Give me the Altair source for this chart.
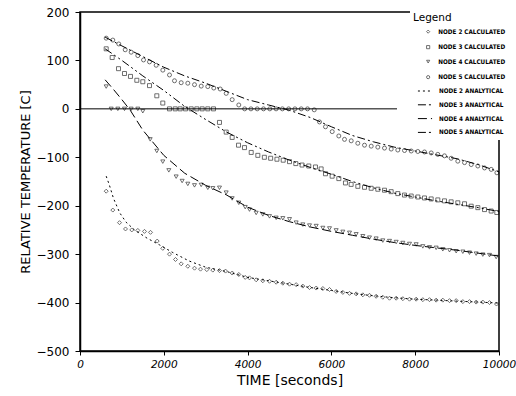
import altair as alt
import pandas as pd

# ---------------- data ----------------
calc_labels = ["NODE 2 CALCULATED", "NODE 3 CALCULATED", "NODE 4 CALCULATED", "NODE 5 CALCULATED"]
ana_labels = ["NODE 2 ANALYTICAL", "NODE 3 ANALYTICAL", "NODE 4 ANALYTICAL", "NODE 5 ANALYTICAL"]

# Node 5 (circles, top curve)
n5_t = [625, 783, 926, 1079, 1221, 1380, 1516, 1659, 1818, 1977, 2136, 2255, 2415, 2573, 2733, 2893,
        3050, 3193, 3346, 3489, 3632, 3790,
        3930, 4080, 4230, 4380, 4530, 4680, 4830, 4980, 5130, 5280, 5430, 5590,
        5716, 5859, 6019, 6177, 6313, 6473, 6630, 6790, 6950, 7108, 7267, 7427, 7585, 7745, 7905,
        8062, 8222, 8382, 8539, 8699, 8858, 9017, 9177, 9337, 9495, 9654, 9814, 9950]
n5_v = [146, 142, 134, 122, 117, 110, 101, 97, 90, 80, 70, 58, 54, 53, 50, 47,
        46, 43, 41, 32, 19, 8,
        0, 0, 0, 0, 0, 0, 0, 0, 0, 0, 0, -2,
        -27, -37, -47, -56, -63, -66, -71, -75, -77, -79, -81, -83, -85, -86, -87,
        -88, -89, -91, -94, -97, -102, -108, -111, -115, -118, -122, -125, -132]

# Node 3 (squares)
n3_t = [625, 768, 919, 1062, 1205, 1356, 1499, 1659, 1833, 1976,
        2136, 2272, 2391, 2518, 2654, 2788, 2916, 3050, 3186,
        3329, 3489, 3632, 3783, 3926, 4086, 4244,
        4400, 4550, 4700, 4850, 5000, 5150, 5300, 5460, 5620, 5755,
        5859, 6018, 6177, 6336, 6471, 6631, 6790, 6949, 7108, 7267,
        7426, 7585, 7744, 7904, 8063, 8222, 8381, 8540, 8699, 8858,
        9017, 9177, 9336, 9495, 9654, 9813, 9948]
n3_v = [124, 106, 83, 73, 67, 59, 56, 48, 27, 12,
        0, 0, 0, 0, 0, 0, 0, 0, 0,
        -28, -48, -59, -75, -80, -90, -96,
        -100, -102, -104, -106, -109, -113, -116, -118, -120, -124,
        -134, -139, -144, -153, -156, -160, -162, -164, -166, -168,
        -171, -175, -178, -180, -182, -184, -186, -188, -190, -192,
        -194, -196, -201, -204, -208, -211, -214]

# Node 4 (down triangles)
n4_t = [625, 745, 903, 1062, 1221, 1380, 1499, 1675, 1833, 1976,
        2120, 2295, 2438, 2573, 2733, 2892, 3050, 3170, 3329, 3489,
        3632, 3790, 3943,
        4045, 4205, 4363, 4523, 4682, 4841, 5000, 5159, 5318, 5477,
        5637, 5796, 5955, 6114, 6273, 6432, 6591, 6750, 6909, 7068,
        7227, 7387, 7546, 7705, 7864, 8023, 8182, 8341, 8500, 8659,
        8819, 8978, 9137, 9296, 9455, 9614, 9773, 9932]
n4_v = [46, 0, 0, 0, 0, 0, -5, -63, -87, -109,
        -127, -140, -149, -155, -158, -157, -163, -164, -163, -173,
        -185, -194, -203,
        -208, -215, -218, -222, -225, -226, -228, -235, -239, -241,
        -242, -246, -247, -251, -254, -256, -259, -263, -266, -268,
        -272, -273, -275, -277, -279, -280, -284, -286, -287, -290,
        -292, -294, -295, -297, -299, -301, -302, -306]

# Node 2 (diamonds, bottom curve)
n2_t = [625, 783, 943, 1086, 1236, 1380, 1539, 1683, 1842, 1976,
        2136, 2279, 2415, 2573, 2733, 2876, 3026, 3170, 3329, 3473,
        3632, 3790, 3943,
        4045, 4205, 4363, 4523, 4682, 4841, 5000, 5159, 5318, 5477,
        5637, 5796, 5955, 6114, 6273, 6432, 6591, 6750, 6909, 7068,
        7227, 7387, 7546, 7705, 7864, 8023, 8182, 8341, 8500, 8659,
        8819, 8978, 9137, 9296, 9455, 9614, 9773, 9940]
n2_v = [-170, -209, -235, -248, -250, -251, -253, -255, -273, -288,
        -300, -311, -320, -325, -329, -331, -332, -333, -334, -335,
        -339, -342, -348,
        -349, -353, -355, -356, -358, -360, -362, -363, -366, -369,
        -370, -371, -373, -377, -379, -381, -382, -384, -385, -387,
        -389, -391, -391, -392, -393, -393, -394, -394, -395, -395,
        -396, -396, -398, -398, -399, -399, -400, -403]

# analytical curves
a5_t = [600, 1000, 1500, 2000, 2500, 3000, 3500, 4000, 4500, 5000, 5500, 6000, 6500, 7000, 7500, 8000, 8500, 9000, 9500, 10000]
a5_v = [148, 130, 108, 86, 68, 53, 36, 19, 8, -3, -18, -37, -55, -68, -79, -87, -95, -103, -115, -130]

a3_t = [600, 1000, 1500, 2000, 2500, 3000, 3500, 4000, 4500, 5000, 5500, 6000, 6500, 7000, 7500, 8000, 8500, 9000, 9500, 10000]
a3_v = [124, 100, 68, 38, 5, -22, -48, -70, -89, -106, -121, -135, -150, -163, -174, -182, -190, -197, -204, -212]

a4_t = [600, 800, 1000, 1200, 1500, 2000, 2500, 3000, 3500, 4000, 4500, 5000, 5500, 6000, 6500, 7000, 7500, 8000, 8500, 9000, 9500, 10000]
a4_v = [60, 40, 19, -3, -44, -96, -133, -158, -178, -203, -220, -233, -244, -253, -261, -269, -276, -282, -287, -292, -298, -304]

a2_t = [625, 700, 800, 950, 1100, 1300, 1600, 1900, 2200, 2600, 3000, 3500, 4000, 4500, 5000, 5500, 6000, 6500, 7000, 7500, 8000, 8500, 9000, 9500, 10000]
a2_v = [-139, -157, -185, -215, -234, -250, -267, -281, -296, -314, -327, -336, -348, -355, -362, -369, -375, -381, -386, -390, -393, -395, -397, -399, -401]

x_ticks = [0, 2000, 4000, 6000, 8000, 10000]
y_ticks = [-500, -400, -300, -200, -100, 0, 100, 200]

# ---------------- tables ----------------
def long(pairs, labels):
    rows = []
    for (ts, vs), lab in zip(pairs, labels):
        for t, v in zip(ts, vs):
            rows.append({"t": t, "v": v, "node": lab})
    return pd.DataFrame(rows)

calc_df = long([(n2_t, n2_v), (n3_t, n3_v), (n4_t, n4_v), (n5_t, n5_v)], calc_labels)
ana_df = long([(a2_t, a2_v), (a3_t, a3_v), (a4_t, a4_v), (a5_t, a5_v)], ana_labels)
zero_df = pd.DataFrame({"v": [0]})

FONT = "DejaVu Sans"
LFONT = "DejaVu Sans Condensed, Liberation Sans Narrow, DejaVu Sans"

x_enc = alt.X("t:Q", scale=alt.Scale(domain=[0, 10000], nice=False),
              axis=alt.Axis(values=x_ticks, title="TIME [seconds]", labelFontStyle="italic",
                            labelFontSize=10.5, titleFontSize=14, titlePadding=4, labelPadding=4,
                            tickSize=4, format="d", labelFlush=False))
y_enc = alt.Y("v:Q", scale=alt.Scale(domain=[-500, 200], nice=False),
              axis=alt.Axis(values=y_ticks, title="RELATIVE TEMPERATURE [C]",
                            labelFontSize=12, titleFontSize=13, titlePadding=4, labelPadding=6,
                            tickSize=5, format="d"))

zero = alt.Chart(zero_df).mark_rule(color="black", strokeWidth=1).encode(y="v:Q")

lines = alt.Chart(ana_df).mark_line(color="black", strokeWidth=1).encode(
    x=x_enc, y=y_enc,
    strokeDash=alt.StrokeDash(
        "node:N",
        scale=alt.Scale(domain=ana_labels, range=[[2, 3], [8, 3, 2, 3, 2, 3], [9, 4], [8, 3, 2, 3]]),
        legend=alt.Legend(title=None, orient="none", legendX=317, legendY=67, padding=4,
                          fillColor="white", symbolSize=200, symbolStrokeWidth=1,
                          symbolStrokeColor="black", symbolOffset=16, labelOffset=6,
                          labelFontSize=6.3, labelFontWeight="bold", labelFont=LFONT,
                          rowPadding=1.8, labelColor="black")),
    order="t:Q",
)

points = alt.Chart(calc_df).mark_point(filled=False, color="black", size=16, strokeWidth=0.8).encode(
    x="t:Q", y="v:Q",
    shape=alt.Shape(
        "node:N",
        scale=alt.Scale(domain=calc_labels, range=["diamond", "square", "triangle-down", "circle"]),
        legend=alt.Legend(title="Legend", orient="none", legendX=330, legendY=-2, padding=3,
                          fillColor="white", symbolSize=10, symbolStrokeWidth=0.8,
                          symbolStrokeColor="black", symbolFillColor="black", symbolOffset=12,
                          labelOffset=7, labelFontSize=6.3, labelFontWeight="bold", labelFont=LFONT,
                          rowPadding=7.5, titleFontSize=10.5, titleFontWeight="normal",
                          titleFont=FONT, titlePadding=5, labelColor="black", titleColor="black")),
)

chart = alt.layer(zero, lines, points).properties(
    width=419, height=339,
    padding={"left": 80, "top": 12, "right": 17, "bottom": 45},
    autosize=alt.AutoSizeParams(type="none"),
).configure_view(
    stroke="black", strokeWidth=1.5
).configure_axis(
    grid=False, domainColor="black", domainWidth=1.5, tickColor="black",
    labelColor="black", titleColor="black", labelFont=FONT, titleFont=FONT,
    titleFontWeight="normal"
)

chart.save("out.html", embed_options={"renderer": "svg", "actions": False})
